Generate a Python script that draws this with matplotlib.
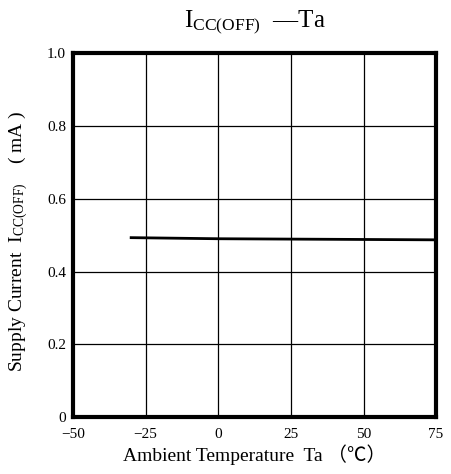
import matplotlib
matplotlib.use('Agg')
import matplotlib.pyplot as plt

plt.rcParams['font.family'] = ['Liberation Serif', 'Noto Sans CJK JP', 'DejaVu Sans']
plt.rcParams['mathtext.fontset'] = 'custom'
plt.rcParams['mathtext.rm'] = 'Liberation Serif'
plt.rcParams['mathtext.it'] = 'Liberation Serif'

# data
temperature = [-30, 0, 25, 50, 75]
current = [0.493, 0.490, 0.489, 0.488, 0.487]

x_ticks = [-50, -25, 0, 25, 50, 75]
x_labels = ['\u221250', '\u221225', '0', '25', '50', '75']
y_ticks = [0, 0.2, 0.4, 0.6, 0.8, 1.0]
y_labels = ['0', '0.2', '0.4', '0.6', '0.8', '1.0']

fig = plt.figure(figsize=(4.51, 4.74), dpi=100)
ax = fig.add_axes([0.162, 0.120, 0.805, 0.768])

ax.plot(temperature, current, color='black', linewidth=2)

ax.set_xlim(-50, 75)
ax.set_ylim(0, 1.0)
ax.set_xticks(x_ticks)
ax.set_xticklabels(x_labels, fontsize=11)
ax.set_yticks(y_ticks)
ax.set_yticklabels(y_labels, fontsize=11)
ax.tick_params(axis='x', length=0, pad=8)
ax.tick_params(axis='y', length=0, pad=5)
ax.grid(True, color='black', linewidth=0.9)
for s in ax.spines.values():
    s.set_linewidth(3)

fig.text(0.565, 0.953, 'I$_{\\mathrm{CC(OFF)}}$  \u2014Ta', ha='center', va='center', fontsize=18)
ax.set_xlabel('Ambient Temperature  Ta \uff08\u2103\uff09', fontsize=14, labelpad=2)
ax.set_ylabel('Supply Current  I$_{\\mathrm{CC(OFF)}}$    ( mA )', fontsize=14)
ax.yaxis.set_label_coords(-0.118, 0.483)

plt.savefig('out.png', dpi=100)
